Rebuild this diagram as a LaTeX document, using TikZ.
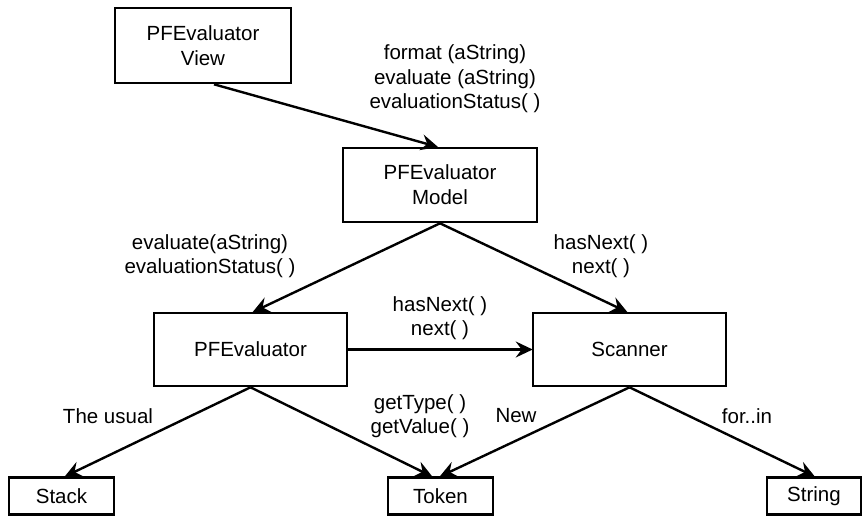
\documentclass[tikz,border=0pt]{standalone}
\usepackage{fontspec}
\setmainfont{Liberation Sans}
\usetikzlibrary{arrows.meta}
\begin{document}
\begin{tikzpicture}[x=1pt,y=-1pt,
  box/.style={draw, line width=2.6pt, inner sep=0pt, align=center, font=\fontsize{20.5}{25}\selectfont},
  lbl/.style={inner sep=0pt, align=center, font=\fontsize{20.5}{24.5}\selectfont},
  arr/.style={line width=2.4pt, -{Stealth[length=17pt,width=16pt,inset=6pt]}, shorten >=-1pt}]
\useasboundingbox (0,0) rectangle (864,516);
\node[box, minimum width=176pt, minimum height=75pt] (view) at (203,45.5) {PFEvaluator\\View};
\node[box, minimum width=194pt, minimum height=74pt] (model) at (440,185) {PFEvaluator\\Model};
\node[box, minimum width=193pt, minimum height=73pt] (pfe) at (250.5,349.5) {PFEvaluator};
\node[box, minimum width=193pt, minimum height=73pt] (scan) at (629.5,349.5) {Scanner};
\node[box, minimum width=105pt, minimum height=37pt] (stack) at (61.5,496) {Stack};
\node[box, minimum width=105pt, minimum height=37pt] (token) at (440.5,496) {Token};
\node[box, minimum width=94pt, minimum height=37pt] (string) at (814,496) {String};

\draw[arr] ([xshift=11pt]view.south) -- ([xshift=-3pt]model.north);
\draw[arr] (model.south) -- ([xshift=3pt]pfe.north);
\draw[arr] (model.south) -- ([xshift=-3pt]scan.north);
\draw[arr] (pfe.east) -- (scan.west);
\draw[arr] (pfe.south) -- ([xshift=4pt]stack.north);
\draw[arr] (pfe.south) -- ([xshift=-9pt]token.north);
\draw[arr] (scan.south) -- (token.north);
\draw[arr] (scan.south) -- (string.north);

\node[lbl] (l1) at (455,79) {format (aString)\\evaluate (aString)\\evaluationStatus( )};
\node[lbl] (l2) at (210,256) {evaluate(aString)\\evaluationStatus( )};
\node[lbl] (l3) at (601,256) {hasNext( )\\next( )};
\node[lbl] (l4) at (440,318) {hasNext( )\\next( )};
\node[lbl] (l5) at (108,416) {The usual};
\node[lbl] (l6) at (420,416) {getType( )\\getValue( )};
\node[lbl] (l7) at (516,416) {New};
\node[lbl] (l8) at (747,416) {for..in};
\end{tikzpicture}
\end{document}
